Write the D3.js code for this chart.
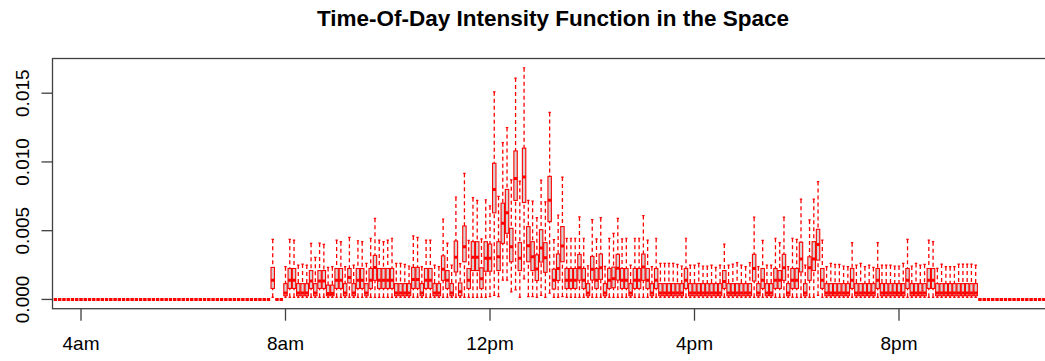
<!DOCTYPE html>
<html>
<head>
<meta charset="utf-8">
<script src="https://cdn.jsdelivr.net/npm/d3@7"></script>
<style>
  body { margin: 0; background: #fff; }
  svg { display: block; font-family: "Liberation Sans", Arial, Helvetica, sans-serif; }
</style>
</head>
<body>
<svg id="chart" width="1045" height="361"></svg>
<script>
// Time-of-day slots: one box per 5-minute slot, first slot at 03:30
const firstSlot = "03:30";
const slotStep = 5; // minutes

const chartTitle = "Time-Of-Day Intensity Function in the Space";
const xTickHours = [4, 8, 12, 16, 20];
const xTickLabels = ["4am", "8am", "12pm", "4pm", "8pm"];
const yTickValues = [0, 0.005, 0.010, 0.015];
const yTickLabels = ["0.000", "0.005", "0.010", "0.015"];

// Five-number summaries per slot, in units of 1e-3 (rows are clock hours)
const whiskerLow = [
  /*03:30*/ 0,0,0,0,0,0,
  /*04*/ 0,0,0,0,0,0,0,0,0,0,0,0,
  /*05*/ 0,0,0,0,0,0,0,0,0,0,0,0,
  /*06*/ 0,0,0,0,0,0,0,0,0,0,0,0,
  /*07*/ 0,0,0,0,0,0,0,0,0,0.15,0,0,
  /*08*/ 0.15,0.15,0.15,0.15,0.15,0.15,0.15,0.15,0.15,0.15,0.15,0.15,
  /*09*/ 0.15,0.15,0.15,0.15,0.15,0.15,0.15,0.15,0.15,0.15,0.15,0.15,
  /*10*/ 0.15,0.15,0.15,0.15,0.15,0.15,0.15,0.15,0.15,0.15,0.15,0.15,
  /*11*/ 0.15,0.15,0.15,0.15,0.15,0.15,0.15,0.15,0.15,0.15,0.15,0.15,
  /*12*/ 0.2,0.3,0.2,1.4,1.4,0.55,0.7,0.15,1.5,0.2,0.2,0.15,
  /*13*/ 0.3,0.15,0.45,0.15,0.15,0.2,0.15,0.15,0.15,0.15,0.15,0.15,
  /*14*/ 0.15,0.15,0.15,0.15,0.15,0.15,0.15,0.15,0.15,0.15,0.15,0.15,
  /*15*/ 0.15,0.15,0.15,0.15,0.15,0.15,0.15,0.15,0.15,0.15,0.15,0.15,
  /*16*/ 0.15,0.15,0.15,0.15,0.15,0.15,0.15,0.15,0.15,0.15,0.15,0.15,
  /*17*/ 0.15,0.15,0.15,0.15,0.15,0.15,0.15,0.15,0.15,0.15,0.15,0.15,
  /*18*/ 0.15,0.15,0.15,0.15,0.15,0.3,0.15,0.15,0.15,0.15,0.15,0.15,
  /*19*/ 0.15,0.15,0.15,0.15,0.15,0.15,0.15,0.15,0.15,0.15,0.15,0.15,
  /*20*/ 0.15,0.15,0.15,0.15,0.15,0.15,0.15,0.15,0.15,0.15,0.15,0.15,
  /*21*/ 0.15,0.15,0.15,0.15,0.15,0.15,0.15,0,0,0,0,0,
  /*22*/ 0,0,0,0,0,0,0,0,0,0,0,0,
  /*23*/ 0
];
const lowerQuartile = [
  /*03:30*/ 0,0,0,0,0,0,
  /*04*/ 0,0,0,0,0,0,0,0,0,0,0,0,
  /*05*/ 0,0,0,0,0,0,0,0,0,0,0,0,
  /*06*/ 0,0,0,0,0,0,0,0,0,0,0,0,
  /*07*/ 0,0,0,0,0,0,0,0,0,0.8,0,0,
  /*08*/ 0.27,0.8,0.8,0.27,0.27,0.27,0.8,0.27,0.8,0.8,0.27,0.27,
  /*09*/ 0.8,0.8,0.27,1.2,0.27,0.8,0.8,0.27,0.8,1.39,0.8,0.8,
  /*10*/ 0.8,0.8,0.27,0.27,0.27,0.27,0.8,0.8,0.27,0.8,0.8,0.27,
  /*11*/ 0.27,1.39,0.8,0.27,2.0,0.27,2.74,0.8,2.1,2.1,0.8,2.05,
  /*12*/ 2.05,6.3,2.1,4.08,4.81,2.74,7.2,2.1,7.05,2.74,2.1,1.38,
  /*13*/ 2.72,1.97,5.66,0.76,1.38,2.74,0.8,0.8,0.8,1.4,0.8,0.27,
  /*14*/ 1.41,0.8,1.46,0.27,0.8,0.85,1.41,0.8,0.8,0.27,0.8,0.8,
  /*15*/ 1.39,0.8,0.27,0.8,0.27,0.27,0.27,0.27,0.27,0.27,0.8,0.27,
  /*16*/ 0.27,0.27,0.27,0.27,0.27,0.27,0.27,0.8,0.27,0.27,0.27,0.27,
  /*17*/ 0.27,0.27,1.34,0.27,0.8,0.27,0.27,0.8,0.8,1.39,0.27,0.8,
  /*18*/ 0.8,2.0,0.27,1.39,2.1,2.86,0.8,0.27,0.27,0.27,0.27,0.27,
  /*19*/ 0.27,0.8,0.27,0.27,0.27,0.27,0.27,0.8,0.27,0.27,0.27,0.27,
  /*20*/ 0.27,0.27,0.8,0.27,0.27,0.27,0.27,0.8,0.8,0.27,0.27,0.27,
  /*21*/ 0.27,0.27,0.27,0.27,0.27,0.27,0.27,0,0,0,0,0,
  /*22*/ 0,0,0,0,0,0,0,0,0,0,0,0,
  /*23*/ 0
];
const median = [
  /*03:30*/ 0,0,0,0,0,0,
  /*04*/ 0,0,0,0,0,0,0,0,0,0,0,0,
  /*05*/ 0,0,0,0,0,0,0,0,0,0,0,0,
  /*06*/ 0,0,0,0,0,0,0,0,0,0,0,0,
  /*07*/ 0,0,0,0,0,0,0,0,0,1.4,0,0,
  /*08*/ 0.47,1.4,1.4,0.47,0.47,0.47,1.34,0.47,1.34,1.34,0.44,0.44,
  /*09*/ 1.4,1.4,0.47,1.6,0.47,1.4,1.4,0.47,1.4,2.33,1.4,1.4,
  /*10*/ 1.4,1.4,0.47,0.47,0.47,0.47,1.45,1.45,0.47,1.4,1.4,0.47,
  /*11*/ 0.47,2.2,1.4,0.47,3.06,0.55,3.84,1.4,3.06,3.06,1.5,3.0,
  /*12*/ 3.0,8.0,3.1,5.54,6.3,3.84,8.8,3.0,8.9,3.9,3.1,2.22,
  /*13*/ 3.75,3.03,7.22,1.4,2.25,3.88,1.4,1.4,1.4,2.3,1.4,0.47,
  /*14*/ 2.2,1.4,2.3,0.47,1.4,1.5,2.26,1.4,1.4,0.47,1.4,1.4,
  /*15*/ 2.35,1.4,0.47,1.4,0.47,0.47,0.47,0.47,0.47,0.47,1.4,0.47,
  /*16*/ 0.47,0.47,0.47,0.47,0.47,0.47,0.47,1.3,0.47,0.47,0.47,0.47,
  /*17*/ 0.47,0.47,2.25,0.47,1.4,0.47,0.47,1.4,1.4,2.3,0.47,1.4,
  /*18*/ 1.4,2.94,0.47,2.3,2.94,4.0,1.4,0.47,0.47,0.47,0.47,0.47,
  /*19*/ 0.47,1.4,0.47,0.47,0.47,0.47,0.47,1.4,0.47,0.47,0.47,0.47,
  /*20*/ 0.47,0.47,1.4,0.47,0.47,0.47,0.47,1.4,1.4,0.47,0.47,0.47,
  /*21*/ 0.47,0.47,0.47,0.47,0.47,0.47,0.47,0,0,0,0,0,
  /*22*/ 0,0,0,0,0,0,0,0,0,0,0,0,
  /*23*/ 0
];
const upperQuartile = [
  /*03:30*/ 0,0,0,0,0,0,
  /*04*/ 0,0,0,0,0,0,0,0,0,0,0,0,
  /*05*/ 0,0,0,0,0,0,0,0,0,0,0,0,
  /*06*/ 0,0,0,0,0,0,0,0,0,0,0,0,
  /*07*/ 0,0,0,0,0,0,0,0,0,2.33,0,0,
  /*08*/ 1.15,2.25,2.25,1.15,1.15,1.15,2.1,1.15,2.1,2.1,1.04,1.04,
  /*09*/ 2.25,2.25,1.15,2.25,1.15,2.25,2.25,1.15,2.25,3.2,2.25,2.25,
  /*10*/ 2.25,2.25,1.15,1.15,1.15,1.15,2.33,2.33,1.15,2.25,2.25,1.15,
  /*11*/ 1.15,3.17,2.1,1.15,4.25,1.2,5.34,2.25,4.2,4.2,2.3,4.2,
  /*12*/ 4.03,9.9,4.2,7.0,8.0,5.17,10.8,4.13,11.0,5.3,4.2,3.24,
  /*13*/ 5.07,4.13,8.95,2.2,3.3,5.3,2.25,2.25,2.25,3.27,2.25,1.15,
  /*14*/ 3.13,2.25,3.3,1.15,2.25,2.35,3.28,2.25,2.25,1.15,2.25,2.25,
  /*15*/ 3.3,2.25,1.15,2.25,1.15,1.15,1.15,1.15,1.15,1.15,2.25,1.15,
  /*16*/ 1.15,1.15,1.15,1.15,1.15,1.15,1.15,2.1,1.15,1.15,1.15,1.15,
  /*17*/ 1.15,1.15,3.28,1.15,2.25,1.15,1.15,2.25,2.1,3.28,1.15,2.25,
  /*18*/ 2.25,4.16,1.15,3.1,4.2,5.1,2.25,1.15,1.15,1.15,1.15,1.15,
  /*19*/ 1.15,2.25,1.15,1.15,1.15,1.15,1.15,2.25,1.15,1.15,1.15,1.15,
  /*20*/ 1.15,1.15,2.25,1.15,1.15,1.15,1.15,2.25,2.25,1.15,1.15,1.15,
  /*21*/ 1.15,1.15,1.15,1.15,1.15,1.15,1.15,0,0,0,0,0,
  /*22*/ 0,0,0,0,0,0,0,0,0,0,0,0,
  /*23*/ 0
];
const whiskerHigh = [
  /*03:30*/ 0,0,0,0,0,0,
  /*04*/ 0,0,0,0,0,0,0,0,0,0,0,0,
  /*05*/ 0,0,0,0,0,0,0,0,0,0,0,0,
  /*06*/ 0,0,0,0,0,0,0,0,0,0,0,0,
  /*07*/ 0,0,0,0,0,0,0,0,0,4.37,0,0,
  /*08*/ 2.38,4.37,4.32,2.50,2.57,2.50,4.08,3.06,4.10,4.00,2.33,2.38,
  /*09*/ 4.32,4.20,2.38,4.52,2.50,4.27,4.20,2.62,4.45,5.90,4.32,4.20,
  /*10*/ 4.32,4.45,2.62,2.62,2.55,2.43,4.62,4.52,2.38,4.32,4.32,2.50,
  /*11*/ 2.38,5.85,4.10,2.50,7.45,2.60,9.17,4.30,7.40,7.20,4.40,7.25,
  /*12*/ 6.80,15.10,7.50,11.40,12.50,8.70,16.10,8.60,16.85,7.20,7.15,5.95,
  /*13*/ 8.68,7.10,13.60,4.35,6.14,8.90,4.44,4.45,4.45,6.00,4.45,2.45,
  /*14*/ 5.80,4.40,5.95,2.40,4.44,4.80,5.90,4.40,4.45,2.50,4.45,4.45,
  /*15*/ 6.10,4.32,2.38,4.45,2.62,2.62,2.62,2.62,2.55,2.43,4.45,2.50,
  /*16*/ 2.50,2.62,2.43,2.43,2.50,2.33,2.50,4.03,2.50,2.57,2.67,2.50,
  /*17*/ 2.38,2.67,5.98,2.38,4.30,2.50,2.50,4.45,4.13,5.98,2.38,4.45,
  /*18*/ 4.37,7.29,2.50,5.78,7.29,8.57,4.32,2.38,2.62,2.55,2.55,2.43,
  /*19*/ 2.38,4.13,2.50,2.62,2.38,2.50,2.33,4.13,2.50,2.50,2.50,2.43,
  /*20*/ 2.43,2.62,4.37,2.43,2.62,2.50,2.55,4.32,4.20,2.26,2.57,2.38,
  /*21*/ 2.38,2.38,2.57,2.57,2.57,2.57,2.50,0,0,0,0,0,
  /*22*/ 0,0,0,0,0,0,0,0,0,0,0,0,
  /*23*/ 0
];

const unit = 1e-3;
const [h0, m0] = firstSlot.split(":").map(Number);
const slots = whiskerHigh.map((_, i) => ({
  minute: h0 * 60 + m0 + i * slotStep,
  lo: whiskerLow[i] * unit,
  q1: lowerQuartile[i] * unit,
  med: median[i] * unit,
  q3: upperQuartile[i] * unit,
  hi: whiskerHigh[i] * unit
}));

// Layout
const plot = { left: 52.5, right: 1053.5, top: 58.5, bottom: 308.7 };
const red = "#ff0000";

const svg = d3.select("#chart");

const x = d3.scaleLinear().domain([240, 1200]).range([81, 899]);
const yMax = d3.max(slots, d => d.hi);
const pad = yMax * 0.04;
const y = d3.scaleLinear().domain([-pad, yMax + pad]).range([plot.bottom, plot.top]);

const slotPx = x(slotStep) - x(0);
const boxW = slotPx * 0.8;
const stapleW = boxW * 0.7;

svg.append("defs").append("clipPath").attr("id", "plotClip")
  .append("rect")
  .attr("x", plot.left).attr("y", plot.top)
  .attr("width", plot.right - plot.left).attr("height", plot.bottom - plot.top);

const g = svg.append("g").attr("clip-path", "url(#plotClip)");

const box = g.selectAll("g.box").data(slots).join("g").attr("class", "box")
  .attr("transform", d => `translate(${x(d.minute)},0)`);

// dashed whiskers
box.filter(d => d.hi > d.q3).append("line")
  .attr("x1", 0).attr("x2", 0)
  .attr("y1", d => y(d.hi)).attr("y2", d => y(d.q3))
  .attr("stroke", red).attr("stroke-width", 1.3).attr("stroke-dasharray", "4,3");
box.filter(d => d.q1 > d.lo).append("line")
  .attr("x1", 0).attr("x2", 0)
  .attr("y1", d => y(d.lo)).attr("y2", d => y(d.q1))
  .attr("stroke", red).attr("stroke-width", 1.3).attr("stroke-dasharray", "4,3");

// staples
box.append("line")
  .attr("x1", -stapleW / 2).attr("x2", stapleW / 2)
  .attr("y1", d => y(d.hi)).attr("y2", d => y(d.hi))
  .attr("stroke", red).attr("stroke-width", 1.2);
box.append("line")
  .attr("x1", -stapleW / 2).attr("x2", stapleW / 2)
  .attr("y1", d => y(d.lo)).attr("y2", d => y(d.lo))
  .attr("stroke", red).attr("stroke-width", 1.2);

// boxes
box.append("rect")
  .attr("x", -boxW / 2).attr("width", boxW)
  .attr("y", d => y(d.q3))
  .attr("height", d => Math.max(0, y(d.q1) - y(d.q3)))
  .attr("fill", "#d8d3d3").attr("stroke", red).attr("stroke-width", 1.1);

// medians
box.append("line")
  .attr("x1", -boxW / 2).attr("x2", boxW / 2)
  .attr("y1", d => y(d.med)).attr("y2", d => y(d.med))
  .attr("stroke", red).attr("stroke-width", 3);

// frame
svg.append("rect")
  .attr("x", plot.left).attr("y", plot.top)
  .attr("width", plot.right - plot.left).attr("height", plot.bottom - plot.top)
  .attr("fill", "none").attr("stroke", "#404040").attr("stroke-width", 1.3);

// x axis
const xt = svg.append("g");
xTickHours.forEach((h, i) => {
  const px = x(h * 60);
  xt.append("line").attr("x1", px).attr("x2", px)
    .attr("y1", plot.bottom).attr("y2", plot.bottom + 12)
    .attr("stroke", "#404040").attr("stroke-width", 1.3);
  xt.append("text").attr("x", px).attr("y", 350)
    .attr("text-anchor", "middle").attr("font-size", 19).attr("fill", "#000")
    .text(xTickLabels[i]);
});

// y axis
const yt = svg.append("g");
yTickValues.forEach((v, i) => {
  const py = y(v);
  yt.append("line").attr("x1", plot.left - 11).attr("x2", plot.left)
    .attr("y1", py).attr("y2", py)
    .attr("stroke", "#404040").attr("stroke-width", 1.3);
  yt.append("text")
    .attr("transform", `translate(29,${py}) rotate(-90)`)
    .attr("text-anchor", "middle").attr("font-size", 19).attr("fill", "#000")
    .text(yTickLabels[i]);
});

// title
svg.append("text")
  .attr("x", (plot.left + plot.right) / 2).attr("y", 26)
  .attr("text-anchor", "middle").attr("font-size", 22.5).attr("font-weight", "bold")
  .attr("fill", "#000")
  .text(chartTitle);
</script>
</body>
</html>
